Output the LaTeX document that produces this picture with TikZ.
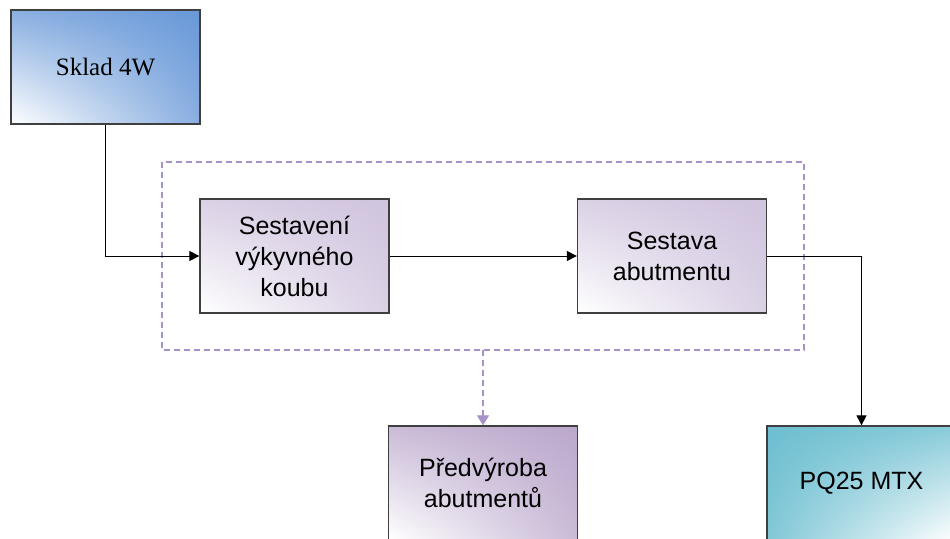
\documentclass[tikz,border=0pt]{standalone}
\usepackage{fontspec}
\setmainfont{Liberation Sans}
\newfontfamily\serifface{Liberation Serif}
\usetikzlibrary{arrows.meta,shadings}
\definecolor{frameline}{HTML}{3F3F3F}
\definecolor{skladblue}{HTML}{6898D8}
\definecolor{lavender}{HTML}{D0C4DE}
\definecolor{purplebox}{HTML}{BBA8CC}
\definecolor{tealbox}{HTML}{6CBED0}
\definecolor{groupline}{HTML}{A890C8}
\tikzset{
  procbox/.style={draw=frameline, line width=1.3pt, minimum width=189pt, minimum height=114pt,
    inner sep=0pt, align=center, font=\fontsize{25}{31}\selectfont},
  % fill that fades to white towards the lower left corner
  fadeLL/.style={upper right=#1, upper left=#1!78, lower right=#1!78, lower left=white},
  % fill that fades to white towards the lower right corner
  fadeLR/.style={upper left=#1, upper right=#1!80, lower left=#1!85, lower right=white},
  flow/.style={draw=black, line width=1pt, -{Triangle[length=10pt,width=10pt]}},
  groupflow/.style={draw=groupline, line width=1.2pt, dash pattern=on 6pt off 4pt,
    -{Triangle[length=10pt,width=12pt]}},
}
\begin{document}
\begin{tikzpicture}[x=1pt,y=-1pt]
  \useasboundingbox (0,0) rectangle (950,538);
  \clip (0,0) rectangle (950,538);
  \fill[white] (0,0) rectangle (950,538);

  % dashed grouping frame around the two assembly steps
  \draw[groupline, line width=1.2pt, dash pattern=on 6pt off 4pt] (162,162) rectangle (804,350);
  \coordinate (groupout) at (483,350);

  \node[procbox, fadeLL=skladblue,
        font=\serifface\fontsize{25}{30}\selectfont] (sklad) at (105.5,67) {Sklad 4W};
  \node[procbox, fadeLL=lavender] (sestaveni) at (294.5,256)
        {Sestavení\\výkyvného\\koubu};
  \node[procbox, fadeLL=lavender] (sestava) at (672,256)
        {Sestava\\abutmentu};
  \node[procbox, fadeLL=purplebox] (predvyroba) at (483,483)
        {Předvýroba\\abutmentů};
  \node[procbox, fadeLR=tealbox] (pq) at (861.5,483)
        {PQ25 MTX};

  \draw[flow] (sklad.south) |- (sestaveni.west);
  \draw[flow] (sestaveni.east) -- (sestava.west);
  \draw[flow] (sestava.east) -| (pq.north);
  \draw[groupflow] (groupout) -- (predvyroba.north);
\end{tikzpicture}
\end{document}
